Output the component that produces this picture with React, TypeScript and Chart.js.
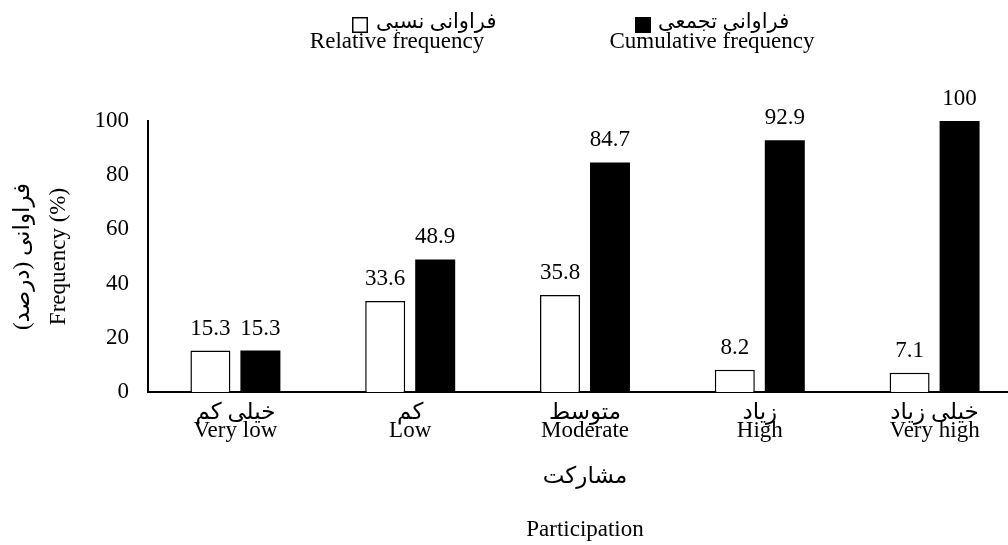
import { useEffect, useRef } from 'react';
import { Chart, registerables } from 'chart.js';

Chart.register(...registerables);

const categoriesFa = ['خیلی کم', 'کم', 'متوسط', 'زیاد', 'خیلی زیاد'];
const categoriesEn = ['Very low', 'Low', 'Moderate', 'High', 'Very high'];
const relativeFrequency = [15.3, 33.6, 35.8, 8.2, 7.1];
const cumulativeFrequency = [15.3, 48.9, 84.7, 92.9, 100];
const seriesFa = ['فراوانی نسبی', 'فراوانی تجمعی'];
const seriesEn = ['Relative frequency', 'Cumulative frequency'];
const yTitle = ['فراوانی (درصد)\u200F', 'Frequency (%)'];
const xTitle = ['مشارکت', '', 'Participation'];

const FONT_FAMILY = '"Liberation Serif", "Times New Roman", "DejaVu Sans", serif';
const FS = 23;

const valueLabels = {
  id: 'valueLabels',
  afterDatasetsDraw(chart: any) {
    const ctx = chart.ctx;
    ctx.save();
    ctx.font = `${FS}px ${FONT_FAMILY}`;
    ctx.fillStyle = '#000';
    ctx.textAlign = 'center';
    ctx.textBaseline = 'alphabetic';
    chart.data.datasets.forEach((ds: any, di: number) => {
      const meta = chart.getDatasetMeta(di);
      meta.data.forEach((bar: any, i: number) => {
        ctx.fillText(String(ds.data[i]), bar.x, bar.y - 16);
      });
    });
    ctx.restore();
  },
};

const customLegend = {
  id: 'customLegend',
  afterDraw(chart: any) {
    const ctx = chart.ctx;
    ctx.save();
    ctx.fillStyle = '#000';
    ctx.strokeStyle = '#000';
    ctx.lineWidth = 1.5;
    // item 1: relative frequency (hollow box)
    ctx.strokeRect(352.75, 17.75, 14.5, 14.5);
    ctx.font = `21px ${FONT_FAMILY}`;
    ctx.textAlign = 'left';
    ctx.textBaseline = 'middle';
    ctx.fillText(seriesFa[0], 376, 22);
    ctx.font = `${FS}px ${FONT_FAMILY}`;
    ctx.textAlign = 'center';
    ctx.textBaseline = 'alphabetic';
    ctx.fillText(seriesEn[0], 397, 48);
    // item 2: cumulative frequency (filled box)
    ctx.fillRect(635, 17, 16, 16);
    ctx.font = `21px ${FONT_FAMILY}`;
    ctx.textAlign = 'left';
    ctx.textBaseline = 'middle';
    ctx.fillText(seriesFa[1], 658, 22);
    ctx.font = `${FS}px ${FONT_FAMILY}`;
    ctx.textAlign = 'center';
    ctx.textBaseline = 'alphabetic';
    ctx.fillText(seriesEn[1], 712, 48);
    ctx.restore();
  },
};

export default function App() {
  const ref = useRef<HTMLCanvasElement | null>(null);

  useEffect(() => {
    if (!ref.current) return;
    const labels = categoriesFa.map((fa, i) => [fa, categoriesEn[i]]);
    const chart = new Chart(ref.current, {
      type: 'bar',
      data: {
        labels,
        datasets: [
          {
            label: seriesEn[0],
            data: relativeFrequency,
            backgroundColor: '#ffffff',
            borderColor: '#000000',
            borderWidth: 1.5,
            categoryPercentage: 0.572,
            barPercentage: 0.8,
          },
          {
            label: seriesEn[1],
            data: cumulativeFrequency,
            backgroundColor: '#000000',
            borderColor: '#000000',
            borderWidth: 0,
            categoryPercentage: 0.572,
            barPercentage: 0.8,
          },
        ],
      },
      options: {
        responsive: false,
        animation: false,
        layout: { padding: { top: 121, left: 0, right: 0, bottom: 0 } },
        plugins: {
          legend: { display: false },
          tooltip: { enabled: false },
        },
        scales: {
          x: {
            grid: { display: false, drawTicks: false },
            border: { display: true, color: '#000', width: 2 },
            ticks: {
              color: '#000',
              font: { family: FONT_FAMILY, size: FS, lineHeight: 0.78 },
              padding: 12,
              maxRotation: 0,
              autoSkip: false,
            },
            title: {
              display: true,
              text: xTitle,
              color: '#000',
              font: { family: FONT_FAMILY, size: FS, lineHeight: 1.15 },
              padding: { top: 0, bottom: 2 },
            },
            afterFit(axis: any) {
              axis.height = 153;
            },
          },
          y: {
            min: 0,
            max: 100,
            grid: { display: false, drawTicks: false },
            border: { display: true, color: '#000', width: 2 },
            ticks: {
              stepSize: 20,
              color: '#000',
              font: { family: FONT_FAMILY, size: FS },
              padding: 19,
            },
            title: {
              display: true,
              text: yTitle,
              color: '#000',
              font: { family: FONT_FAMILY, size: FS, lineHeight: 1.55 },
              padding: { top: 5, bottom: 0 },
            },
            afterFit(axis: any) {
              axis.width = 148;
            },
          },
        },
      },
      plugins: [valueLabels, customLegend],
    });
    return () => chart.destroy();
  }, []);

  return (
    <div
      style={{
        position: 'absolute',
        left: 0,
        top: 0,
        width: 1008,
        height: 545,
        overflow: 'hidden',
        background: '#fff',
      }}
    >
      <canvas ref={ref} width={1022} height={545} style={{ display: 'block' }} />
    </div>
  );
}
